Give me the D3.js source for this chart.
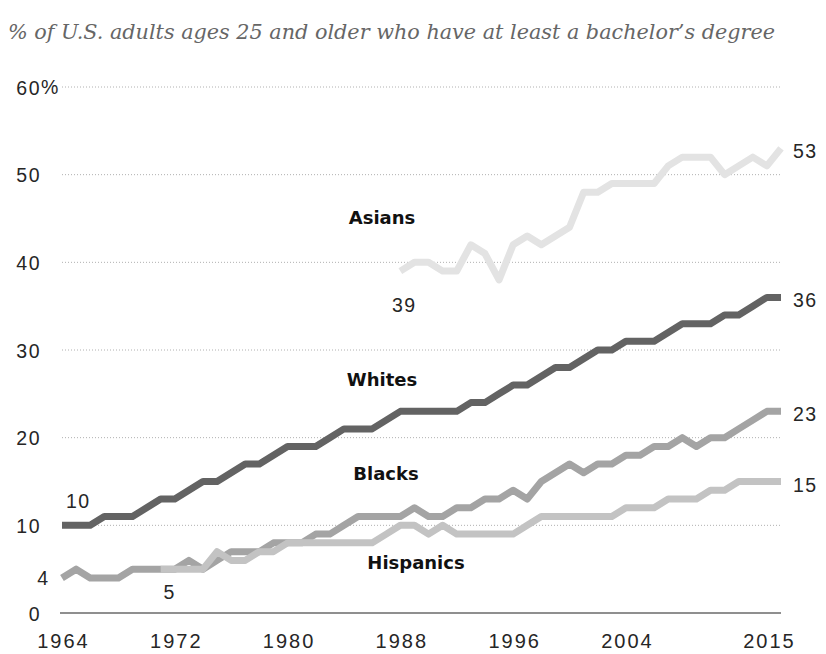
<!DOCTYPE html>
<html>
<head>
<meta charset="utf-8">
<script src="https://cdn.jsdelivr.net/npm/d3@7"></script>
<style>
  html, body { margin: 0; padding: 0; background: #fff; }
  svg { display: block; }
</style>
</head>
<body>
<svg id="chart" width="826" height="654"></svg>
<script>
// ---- data ----
const titleText = "% of U.S. adults ages 25 and older who have at least a bachelor\u2019s degree";

const yearsFull = [1964,1965,1966,1967,1968,1969,1970,1971,1972,1973,1974,1975,1976,1977,1978,1979,1980,1981,1982,1983,1984,1985,1986,1987,1988,1989,1990,1991,1992,1993,1994,1995,1996,1997,1998,1999,2000,2001,2002,2003,2004,2005,2006,2007,2008,2009,2010,2011,2012,2013,2014,2015];
const yearsHispanic = [1971,1972,1973,1974,1975,1976,1977,1978,1979,1980,1981,1982,1983,1984,1985,1986,1987,1988,1989,1990,1991,1992,1993,1994,1995,1996,1997,1998,1999,2000,2001,2002,2003,2004,2005,2006,2007,2008,2009,2010,2011,2012,2013,2014,2015];
const yearsAsian = [1988,1989,1990,1991,1992,1993,1994,1995,1996,1997,1998,1999,2000,2001,2002,2003,2004,2005,2006,2007,2008,2009,2010,2011,2012,2013,2014,2015];

const whites = [10,10,10,11,11,11,12,13,13,14,15,15,16,17,17,18,19,19,19,20,21,21,21,22,23,23,23,23,23,24,24,25,26,26,27,28,28,29,30,30,31,31,31,32,33,33,33,34,34,35,36,36];
const blacks = [4,5,4,4,4,5,5,5,5,6,5,6,7,7,7,8,8,8,9,9,10,11,11,11,11,12,11,11,12,12,13,13,14,13,15,16,17,16,17,17,18,18,19,19,20,19,20,20,21,22,23,23];
const hispanics = [5,5,5,5,7,6,6,7,7,8,8,8,8,8,8,8,9,10,10,9,10,9,9,9,9,9,10,11,11,11,11,11,11,12,12,12,13,13,13,14,14,15,15,15,15];
const asians = [39,40,40,39,39,42,41,38,42,43,42,43,44,48,48,49,49,49,49,51,52,52,52,50,51,52,51,53];

const seriesNames = ["Asians","Whites","Blacks","Hispanics"];
const yTicks = [0,10,20,30,40,50,60];
const xTicks = [1964,1972,1980,1988,1996,2004,2015];

// ---- build ----
const svg = d3.select("#chart");
const x = d3.scaleLinear().domain([1964, 2015]).range([62, 781]);
const y = d3.scaleLinear().domain([0, 60]).range([613, 87]);

const series = [
  {name: "Asians",    years: yearsAsian,    values: asians,    color: "#e3e3e3"},
  {name: "Whites",    years: yearsFull,     values: whites,    color: "#636363"},
  {name: "Blacks",    years: yearsFull,     values: blacks,    color: "#a4a4a4"},
  {name: "Hispanics", years: yearsHispanic, values: hispanics, color: "#c3c3c3"}
];

// title
svg.append("text")
  .attr("x", 8).attr("y", 39)
  .attr("font-family", "'DejaVu Serif', serif")
  .attr("font-style", "italic")
  .attr("font-size", 20.5)
  .attr("fill", "#666")
  .attr("textLength", 767)
  .attr("lengthAdjust", "spacingAndGlyphs")
  .text(titleText);

// gridlines (dotted)
svg.append("g").selectAll("line")
  .data(yTicks.filter(d => d > 0))
  .join("line")
  .attr("x1", 62).attr("x2", 780)
  .attr("y1", d => y(d)).attr("y2", d => y(d))
  .attr("stroke", "#b0b0b0")
  .attr("stroke-width", 1)
  .attr("stroke-dasharray", "1,2");

// baseline
svg.append("line")
  .attr("x1", 60).attr("x2", 781)
  .attr("y1", y(0)).attr("y2", y(0))
  .attr("stroke", "#8f8f8f").attr("stroke-width", 2);

const labelFont = "'Liberation Sans', Arial, sans-serif";
const labelColor = "#262626";

// y axis labels through d3 axis
const yAxis = d3.axisLeft(y).tickValues(yTicks).tickSize(0).tickPadding(0)
  .tickFormat(d => String(d));
const yg = svg.append("g").attr("transform", "translate(41,0)").call(yAxis);
yg.select(".domain").remove();
yg.selectAll("text")
  .attr("font-family", labelFont).attr("font-size", 19.5)
  .attr("letter-spacing", "1.5px")
  .attr("fill", labelColor).attr("dy", "0.36em");
// percent sign after 60
svg.append("text")
  .attr("x", 41).attr("y", y(60)).attr("dy", "0.36em")
  .attr("font-family", labelFont).attr("font-size", 19.5).attr("fill", labelColor)
  .text("%");
// extra "4" marker on the axis
svg.append("text")
  .attr("x", 48).attr("y", y(blacks[0])).attr("dy", "0.36em")
  .attr("text-anchor", "end")
  .attr("font-family", labelFont).attr("font-size", 19.5).attr("fill", labelColor)
  .text(String(blacks[0]));

// x axis via d3 axis
const xAxis = d3.axisBottom(x).tickValues(xTicks).tickSize(0).tickPadding(0)
  .tickFormat(d3.format("d"));
const xg = svg.append("g").attr("transform", "translate(0,633)").call(xAxis);
xg.select(".domain").remove();
xg.selectAll("text")
  .attr("font-family", labelFont).attr("font-size", 20)
  .attr("letter-spacing", "2px")
  .attr("fill", labelColor)
  .attr("dy", "0.75em")
  .attr("dx", d => d === 2015 ? -12 : 1);

// lines
const line = d3.line()
  .x(d => x(d[0]))
  .y(d => y(d[1]));

svg.append("g").selectAll("path")
  .data(series)
  .join("path")
  .attr("d", s => line(s.years.map((yr, i) => [yr, s.values[i]])))
  .attr("fill", "none")
  .attr("stroke", s => s.color)
  .attr("stroke-width", 7)
  .attr("stroke-linejoin", "round")
  .attr("stroke-linecap", "butt");

// series name labels
const nameFont = "'DejaVu Sans', sans-serif";
const nameLabels = [
  {text: seriesNames[0], x: 382, y: 224},
  {text: seriesNames[1], x: 382, y: 386},
  {text: seriesNames[2], x: 386, y: 480},
  {text: seriesNames[3], x: 416, y: 569}
];
svg.append("g").selectAll("text")
  .data(nameLabels)
  .join("text")
  .attr("x", d => d.x).attr("y", d => d.y)
  .attr("text-anchor", "middle")
  .attr("font-family", nameFont).attr("font-weight", "bold")
  .attr("font-size", 18)
  .attr("fill", "#111")
  .text(d => d.text);

// end value labels
const endLabels = series.map(s => ({v: s.values[s.values.length - 1], yr: s.years[s.years.length - 1]}));
svg.append("g").selectAll("text")
  .data(endLabels)
  .join("text")
  .attr("x", d => x(d.yr) + 12)
  .attr("y", d => y(d.v) + 3)
  .attr("dy", "0.36em")
  .attr("font-family", labelFont).attr("font-size", 19.5)
  .attr("letter-spacing", "1.5px")
  .attr("fill", labelColor)
  .text(d => d.v);

// start value labels
const startLabels = [
  {v: whites[0], yr: yearsFull[0], dx: 4, dy: -24},
  {v: asians[0], yr: yearsAsian[0], dx: 4, dy: 34},
  {v: hispanics[0], yr: yearsHispanic[0], dx: 9, dy: 23}
];
svg.append("g").selectAll("text")
  .data(startLabels)
  .join("text")
  .attr("x", d => x(d.yr) + d.dx)
  .attr("y", d => y(d.v) + d.dy)
  .attr("dy", "0.36em")
  .attr("text-anchor", d => d.v === whites[0] ? "start" : "middle")
  .attr("font-family", labelFont).attr("font-size", 19.5)
  .attr("letter-spacing", "1.5px")
  .attr("fill", labelColor)
  .text(d => d.v);
</script>
</body>
</html>
